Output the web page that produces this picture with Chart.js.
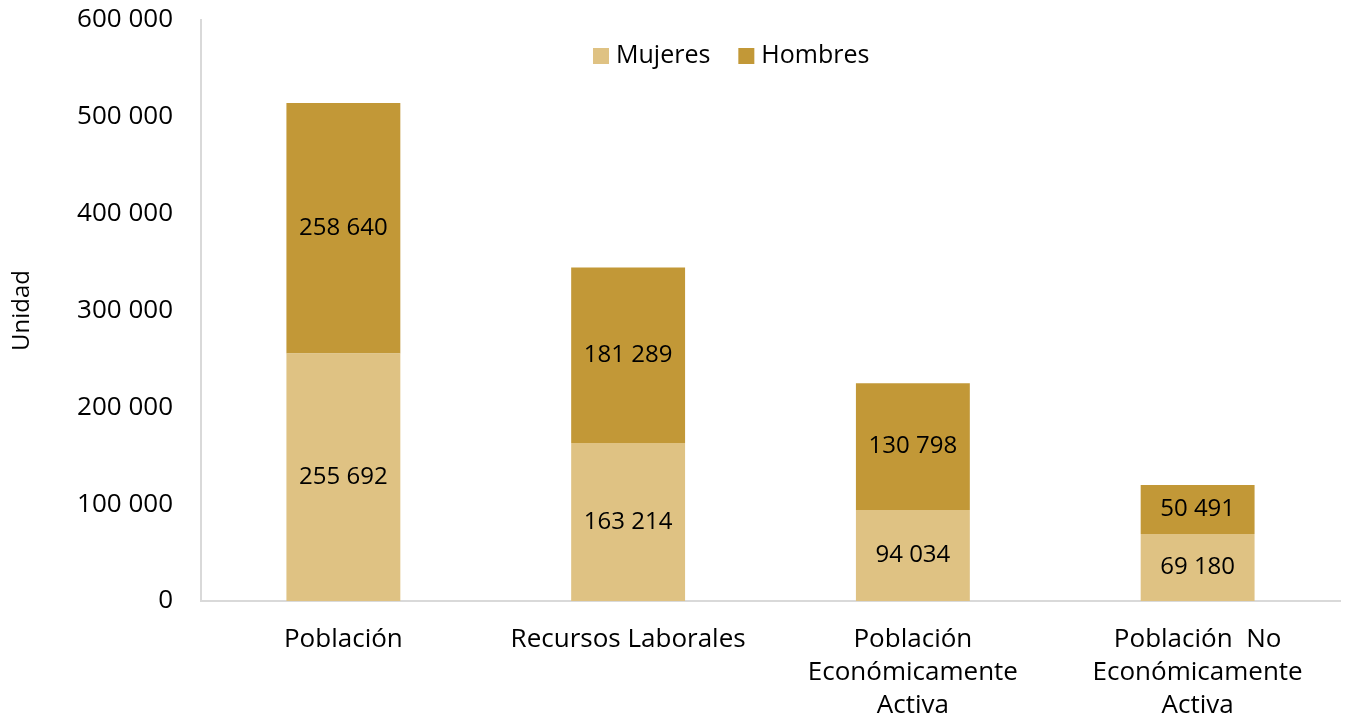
<!DOCTYPE html>
<html>
<head>
<meta charset="utf-8">
<script src="https://cdn.jsdelivr.net/npm/chart.js@4/dist/chart.umd.min.js"></script>
<style>
  html, body { margin: 0; padding: 0; background: #fff; }
  #wrap { width: 1346px; height: 727px; }
</style>
</head>
<body>
<div id="wrap"><canvas id="chart"></canvas></div>
<script>
// Datos
const categories = [
    ['Población'],
    ['Recursos Laborales'],
    ['Población', 'Económicamente', 'Activa'],
    ['Población  No', 'Económicamente', 'Activa']
];
const mujeres = [255692, 163214, 94034, 69180];
const hombres = [258640, 181289, 130798, 50491];
const yTicks = [0, 100000, 200000, 300000, 400000, 500000, 600000];

const colors = {
    mujeres: '#DFC283',
    hombres: '#C29837',
    axis: '#D9D9D9',
    text: '#000000'
};
const FONT = '"Open Sans", sans-serif';

// separador de miles con espacio
const fmt = v => String(v).replace(/\B(?=(\d{3})+(?!\d))/g, ' ');

// etiquetas dentro de cada segmento
const valueLabels = {
    id: 'valueLabels',
    afterDatasetsDraw(chart) {
        const ctx = chart.ctx;
        ctx.save();
        ctx.font = '24px ' + FONT;
        ctx.fillStyle = colors.text;
        ctx.textAlign = 'center';
        ctx.textBaseline = 'middle';
        chart.data.datasets.forEach((ds, i) => {
            chart.getDatasetMeta(i).data.forEach((bar, j) => {
                const mid = (bar.y + bar.base) / 2;
                ctx.fillText(fmt(ds.data[j]), bar.x, mid);
            });
        });
        ctx.restore();
    }
};

// leyenda dentro del area del grafico
const innerLegend = {
    id: 'innerLegend',
    afterDraw(chart) {
        const ctx = chart.ctx;
        ctx.save();
        ctx.font = '25px ' + FONT;
        ctx.textBaseline = 'middle';
        const y = 56;
        let x = 593;
        chart.data.datasets.forEach(ds => {
            ctx.fillStyle = ds.backgroundColor;
            ctx.fillRect(x, y - 8, 16, 16);
            ctx.fillStyle = colors.text;
            ctx.fillText(ds.label, x + 23, y);
            x += 23 + ctx.measureText(ds.label).width + 28;
        });
        ctx.restore();
    }
};

new Chart(document.getElementById('chart'), {
    type: 'bar',
    data: {
        labels: categories,
        datasets: [
            { label: 'Mujeres', data: mujeres, backgroundColor: colors.mujeres, borderWidth: 0 },
            { label: 'Hombres', data: hombres, backgroundColor: colors.hombres, borderWidth: 0 }
        ]
    },
    options: {
        responsive: true,
        maintainAspectRatio: false,
        animation: false,
        devicePixelRatio: 1,
        layout: { padding: { top: 20, right: 6, left: 0, bottom: 0 } },
        datasets: { bar: { barPercentage: 0.4, categoryPercentage: 1 } },
        plugins: {
            legend: { display: false },
            tooltip: { enabled: false }
        },
        scales: {
            x: {
                stacked: true,
                grid: { display: false, drawTicks: false },
                border: { display: true, color: colors.axis, width: 2 },
                ticks: {
                    color: colors.text,
                    font: { family: FONT, size: 26, lineHeight: 1.27 },
                    padding: 22,
                    maxRotation: 0,
                    autoSkip: false
                },
                afterFit(scale) { scale.height = 126; }
            },
            y: {
                stacked: true,
                min: 0,
                max: 600000,
                afterBuildTicks(scale) { scale.ticks = yTicks.map(v => ({ value: v })); },
                grid: { display: false, drawTicks: false },
                border: { display: true, color: colors.axis, width: 2 },
                ticks: {
                    color: colors.text,
                    font: { family: FONT, size: 26 },
                    padding: 28,
                    callback: v => fmt(v)
                },
                title: {
                    display: true,
                    text: 'Unidad',
                    color: colors.text,
                    font: { family: FONT, size: 24 },
                    padding: { top: 8, bottom: 0 }
                },
                afterFit(scale) {
                    scale.width = 201;
                    scale.paddingTop = 0;
                    scale.paddingBottom = 0;
                }
            }
        }
    },
    plugins: [valueLabels, innerLegend]
});
</script>
</body>
</html>
